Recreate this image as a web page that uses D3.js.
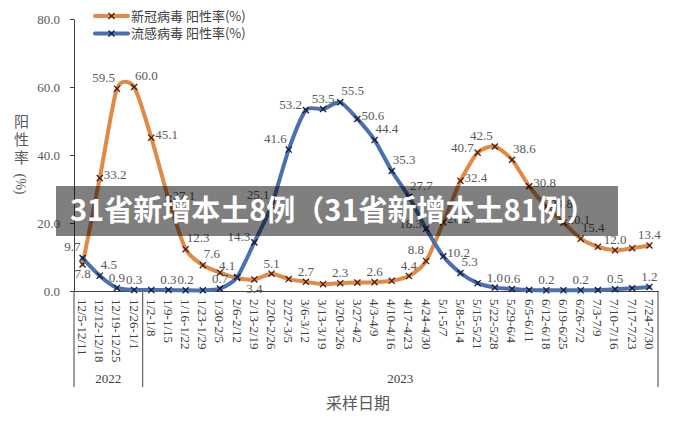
<!DOCTYPE html>
<html><head><meta charset="utf-8">
<script src="https://cdn.jsdelivr.net/npm/d3@7"></script>
<style>
html,body{margin:0;padding:0;background:#fff;}
svg{display:block;}
</style></head>
<body>
<svg id="chart" width="677" height="422"></svg>
<script>
const categories = ["12/5-12/11","12/12-12/18","12/19-12/25","12/26-1/1","1/2-1/8","1/9-1/15","1/16-1/22","1/23-1/29","1/30-2/5","2/6-2/12","2/13-2/19","2/20-2/26","2/27-3/5","3/6-3/12","3/13-3/19","3/20-3/26","3/27-4/2","4/3-4/9","4/10-4/16","4/17-4/23","4/24-4/30","5/1-5/7","5/8-5/14","5/15-5/21","5/22-5/28","5/29-6/4","6/5-6/11","6/12-6/18","6/19-6/25","6/26-7/2","7/3-7/9","7/10-7/16","7/17-7/23","7/24-7/30"];
const years = ["2022","2023"];
const yearCounts = [4, 30];
const covidValues = [7.8,33.2,59.5,60.0,45.1,27.1,12.3,7.6,5.4,3.8,3.4,5.1,3.5,2.7,2.0,2.3,2.5,2.6,3.0,4.4,8.8,20.2,32.4,40.7,42.5,38.6,30.8,24.8,20.1,15.4,13.0,12.0,12.6,13.4];
const fluValues = [9.7,4.5,0.9,0.3,0.3,0.3,0.2,0.2,0.7,4.1,14.3,25.1,41.6,53.2,53.5,55.5,50.6,44.4,35.3,27.7,18.3,10.2,5.3,2.3,1.0,0.6,0.3,0.2,0.2,0.2,0.3,0.5,0.8,1.2];
const yTicks = [0,20,40,60,80];
const seriesNames = ["新冠病毒 阳性率(%)","流感病毒 阳性率(%)"];
const yTitleChars = ["阳","性","率"];
const xTitle = "采样日期";
const bannerText = "31省新增本土8例（31省新增本土81例）";
// label placement codes (style only), null = no label shown
const covidLabelPos = ['b','r','al','ar','r','r','ar','ar',null,null,'b','a',null,'a',null,'a',null,'a',null,'a','al','r','r','l','al','ar','r','r','r','ar',null,'a',null,'a'];
const fluLabelPos = ['al','ar','a','a',null,'a','a',null,'a','al','l','al','al','l','a','ar','r','ar','ar','ar','l','r','ar',null,'a','a',null,'a',null,'a',null,'a',null,'a'];

(function () {
const svg = d3.select("#chart");
const pL = 74, pR = 658, pT = 19, pB = 291;
const serif = "'Liberation Serif','Times New Roman',serif";
const cjk = "'Noto Sans CJK SC','Noto Sans',sans-serif";
const orange = "#E08A46", blue = "#4A70B0";
const orangeMark = "#4a1e12", blueMark = "#141c3c";

const x = d3.scaleBand().domain(categories).range([pL, pR]).padding(0);
const y = d3.scaleLinear().domain([0, 80]).range([pB, pT]);
const cx = d => x(d) + x.bandwidth() / 2;

// Y axis
const yAxis = svg.append("g").attr("transform", `translate(${pL},0)`)
  .call(d3.axisLeft(y).tickValues(yTicks).tickFormat(d3.format(".1f")).tickSize(4).tickSizeOuter(0).tickPadding(10));
yAxis.select(".domain").attr("stroke", "#404040");
yAxis.selectAll(".tick line").attr("stroke", "#404040");
yAxis.selectAll("text").attr("font-family", serif).attr("font-size", 13).attr("fill", "#595959");

// X axis
const xAxis = svg.append("g").attr("transform", `translate(0,${pB})`)
  .call(d3.axisBottom(x).tickSize(0).tickSizeOuter(0));
xAxis.select(".domain").attr("stroke", "#404040");
xAxis.selectAll(".tick text")
  .attr("font-family", serif).attr("font-size", 13).attr("fill", "#404040")
  .attr("text-anchor", "start")
  .attr("transform", "rotate(90)")
  .attr("x", 8).attr("y", 0).attr("dy", "0.35em");

// group separators
const sepIdx = [0];
yearCounts.reduce((a, c) => { sepIdx.push(a + c); return a + c; }, 0);
const sepX = sepIdx.map(i => i < categories.length ? x(categories[i]) : x(categories[categories.length - 1]) + x.bandwidth());
svg.append("g").selectAll("line").data(sepX).join("line")
  .attr("x1", d => d).attr("x2", d => d).attr("y1", pB).attr("y2", 387)
  .attr("stroke", "#404040").attr("stroke-width", 1);
svg.append("g").selectAll("text").data(years).join("text")
  .attr("x", (d, i) => (sepX[i] + sepX[i + 1]) / 2).attr("y", 383)
  .attr("text-anchor", "middle").attr("font-family", serif).attr("font-size", 13).attr("fill", "#404040")
  .text(d => d);

// axis titles
svg.append("text").attr("x", 358).attr("y", 409).attr("text-anchor", "middle")
  .attr("font-family", cjk).attr("font-size", 16).attr("fill", "#595959").text(xTitle);
svg.append("g").selectAll("text").data(yTitleChars).join("text")
  .attr("x", 21.5).attr("y", (d, i) => 127 + i * 18).attr("text-anchor", "middle")
  .attr("font-family", cjk).attr("font-size", 15).attr("fill", "#595959").text(d => d);
svg.append("text").attr("transform", "translate(21,184) rotate(90)").attr("text-anchor", "middle")
  .attr("dy", "0.35em").attr("font-family", serif).attr("font-size", 14).attr("fill", "#595959").text("(%)");

// lines
const line = d3.line().x((d, i) => cx(categories[i])).y(d => y(d)).curve(d3.curveCardinal.tension(0.3));
const sym = d3.symbol().type(d3.symbolTimes || d3.symbolX).size(26);

function drawSeries(vals, color, mark, labelPos) {
  const g = svg.append("g");
  g.append("path").datum(vals).attr("d", line).attr("fill", "none")
    .attr("stroke", color).attr("stroke-width", 4).attr("stroke-linecap", "round").attr("stroke-linejoin", "round");
  g.selectAll("path.m").data(vals).join("path").attr("class", "m")
    .attr("transform", (d, i) => `translate(${cx(categories[i])},${y(d)})`)
    .attr("d", sym).attr("fill", "none").attr("stroke", mark).attr("stroke-width", 1.3);
  const lab = vals.map((v, i) => ({ v, i, p: labelPos[i] })).filter(d => d.p);
  g.selectAll("text").data(lab).join("text")
    .attr("font-family", serif).attr("font-size", 13).attr("fill", "#595959")
    .each(function (d) {
      const mx = cx(categories[d.i]), my = y(d.v);
      let tx = mx, ty = my - 6, anc = "middle";
      if (d.p === 'b') { ty = my + 14; }
      else if (d.p === 'r') { tx = mx + 4; ty = my + 1; anc = "start"; }
      else if (d.p === 'l') { tx = mx - 4; ty = my - 1; anc = "end"; }
      else if (d.p === 'ar') { tx = mx + 1; ty = my - 7; anc = "start"; }
      else if (d.p === 'al') { tx = mx - 2; ty = my - 7; anc = "end"; }
      d3.select(this).attr("x", tx).attr("y", ty).attr("text-anchor", anc);
    })
    .text(d => d3.format(".1f")(d.v));
}
drawSeries(covidValues, orange, orangeMark, covidLabelPos);
drawSeries(fluValues, blue, blueMark, fluLabelPos);

// legend
const legend = svg.append("g");
[[orange, orangeMark], [blue, blueMark]].forEach((c, i) => {
  const ly = 16 + i * 17.5;
  legend.append("line").attr("x1", 95).attr("x2", 128).attr("y1", ly).attr("y2", ly)
    .attr("stroke", c[0]).attr("stroke-width", 4).attr("stroke-linecap", "round");
  legend.append("path").attr("transform", `translate(111.5,${ly})`).attr("d", sym)
    .attr("fill", "none").attr("stroke", c[1]).attr("stroke-width", 1.3);
  legend.append("text").attr("x", 131).attr("y", ly).attr("dy", "0.35em")
    .attr("font-family", cjk).attr("font-size", 13).attr("fill", "#404040").text(seriesNames[i]);
});

// overlay banner
svg.append("rect").attr("x", 56).attr("y", 186).attr("width", 562).attr("height", 50)
  .attr("fill", "rgba(0,0,0,0.5)");
svg.append("text").attr("x", 70).attr("y", 221).attr("font-family", cjk).attr("font-weight", 700)
  .attr("font-size", 29).attr("fill", "#fff").text(bannerText);
})();
</script>
</body></html>
